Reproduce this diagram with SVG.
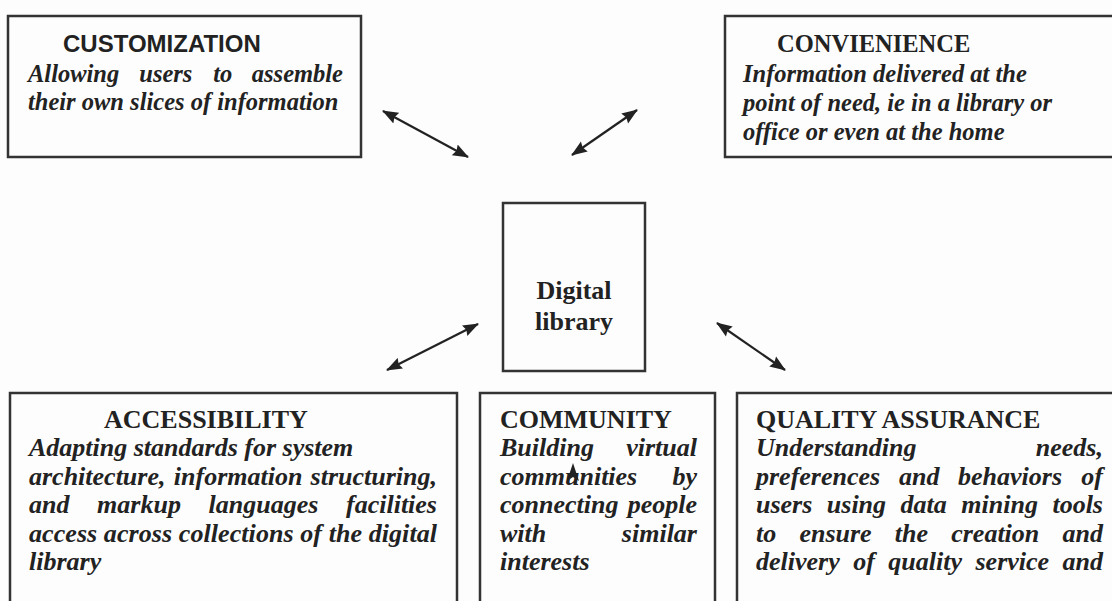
<svg xmlns="http://www.w3.org/2000/svg" width="1112" height="601" viewBox="0 0 1112 601">
<style>
.box{fill:none;stroke:#333;stroke-width:2.5}
.ttl{font-family:"Liberation Serif","Times New Roman",serif;font-weight:bold;fill:#222}
.sans{font-family:"Liberation Sans",Arial,sans-serif;font-weight:bold;fill:#222;font-size:24px}
.it{font-family:"Liberation Serif","Times New Roman",serif;font-weight:bold;font-style:italic;fill:#222}
.s24{font-size:24.5px}
.s26{font-size:26px}
.con{stroke:#222;stroke-width:2.2;fill:none;marker-start:url(#ah);marker-end:url(#ah)}
</style>
<defs>
<marker id="ah" markerUnits="userSpaceOnUse" markerWidth="17" markerHeight="13" refX="15" refY="6.5" orient="auto-start-reverse">
<path d="M0,0.5 L16,6.5 L0,12.5 L2,6.5 z" fill="#222"/>
</marker>
</defs>
<rect width="1112" height="601" fill="#fdfdfd"/>

<g id="customization">
<rect class="box" x="8" y="16" width="353" height="141"/>
<text class="sans" x="63" y="52">CUSTOMIZATION</text>
<text class="it s24" y="82"><tspan x="28">Allowing</tspan><tspan x="139.3">users</tspan><tspan x="213.2">to</tspan><tspan x="343" text-anchor="end">assemble</tspan></text>
<text class="it s24" x="28" y="110">their own slices of information</text>
</g>

<g id="convenience">
<rect class="box" x="725" y="16" width="420" height="141"/>
<text class="ttl s24" x="777" y="52">CONVIENIENCE</text>
<text class="it s24" x="743" y="82">Information delivered at the</text>
<text class="it s24" x="743" y="111">point of need, ie in a library or</text>
<text class="it s24" x="743" y="140">office or even at the home</text>
</g>

<g id="digital-library">
<rect class="box" x="503" y="203" width="142" height="168"/>
<text class="ttl s26" x="574" y="299" text-anchor="middle">Digital</text>
<text class="ttl s26" x="574" y="330" text-anchor="middle">library</text>
</g>

<g id="accessibility">
<rect class="box" x="10" y="393" width="447" height="230"/>
<text class="ttl s26" x="104" y="428">ACCESSIBILITY</text>
<text class="it s26" x="29" y="456.4">Adapting standards for system</text>
<text class="it s26" y="484.8"><tspan x="29">architecture,</tspan><tspan x="173.8">information</tspan><tspan x="437" text-anchor="end">structuring,</tspan></text>
<text class="it s26" y="513.2"><tspan x="29">and</tspan><tspan x="97.1">markup</tspan><tspan x="208.5">languages</tspan><tspan x="437" text-anchor="end">facilities</tspan></text>
<text class="it s26" x="29" y="541.6" textLength="408" lengthAdjust="spacing">access across collections of the digital</text>
<text class="it s26" x="29" y="570">library</text>
</g>

<g id="community">
<rect class="box" x="480" y="393" width="235" height="230"/>
<text class="ttl s26" x="500" y="428">COMMUNITY</text>
<text class="it s26" y="456.4"><tspan x="500">Building</tspan><tspan x="697" text-anchor="end">virtual</tspan></text>
<text class="it s26" y="484.8"><tspan x="500">communities</tspan><tspan x="697" text-anchor="end">by</tspan></text>
<text class="it s26" y="513.2"><tspan x="500">connecting</tspan><tspan x="697" text-anchor="end">people</tspan></text>
<text class="it s26" y="541.6"><tspan x="500">with</tspan><tspan x="697" text-anchor="end">similar</tspan></text>
<text class="it s26" x="500" y="570">interests</text>
</g>

<g id="quality-assurance">
<rect class="box" x="737" y="393" width="420" height="230"/>
<text class="ttl s26" x="756" y="428">QUALITY ASSURANCE</text>
<text class="it s26" y="456.4"><tspan x="756">Understanding</tspan><tspan x="1103" text-anchor="end">needs,</tspan></text>
<text class="it s26" y="484.8"><tspan x="756">preferences</tspan><tspan x="899">and</tspan><tspan x="958">behaviors</tspan><tspan x="1103" text-anchor="end">of</tspan></text>
<text class="it s26" y="513.2"><tspan x="756">users</tspan><tspan x="826.8">using</tspan><tspan x="900.6">data</tspan><tspan x="961.3">mining</tspan><tspan x="1103" text-anchor="end">tools</tspan></text>
<text class="it s26" y="541.6"><tspan x="756">to</tspan><tspan x="799.4">ensure</tspan><tspan x="894.8">the</tspan><tspan x="951.2">creation</tspan><tspan x="1103" text-anchor="end">and</tspan></text>
<text class="it s26" y="570"><tspan x="756">delivery</tspan><tspan x="853.2">of</tspan><tspan x="888.3">quality</tspan><tspan x="975.5">service</tspan><tspan x="1103" text-anchor="end">and</tspan></text>
</g>

<g id="connectors">
<line class="con" x1="383" y1="111" x2="468" y2="157"/>
<line class="con" x1="572" y1="155" x2="637" y2="110"/>
<line class="con" x1="387" y1="370" x2="478" y2="324"/>
<line class="con" x1="717" y1="323" x2="785" y2="370"/>
<path d="M573,463 L579,481 L573,477 L567,481 z" fill="#222"/>
</g>
</svg>
